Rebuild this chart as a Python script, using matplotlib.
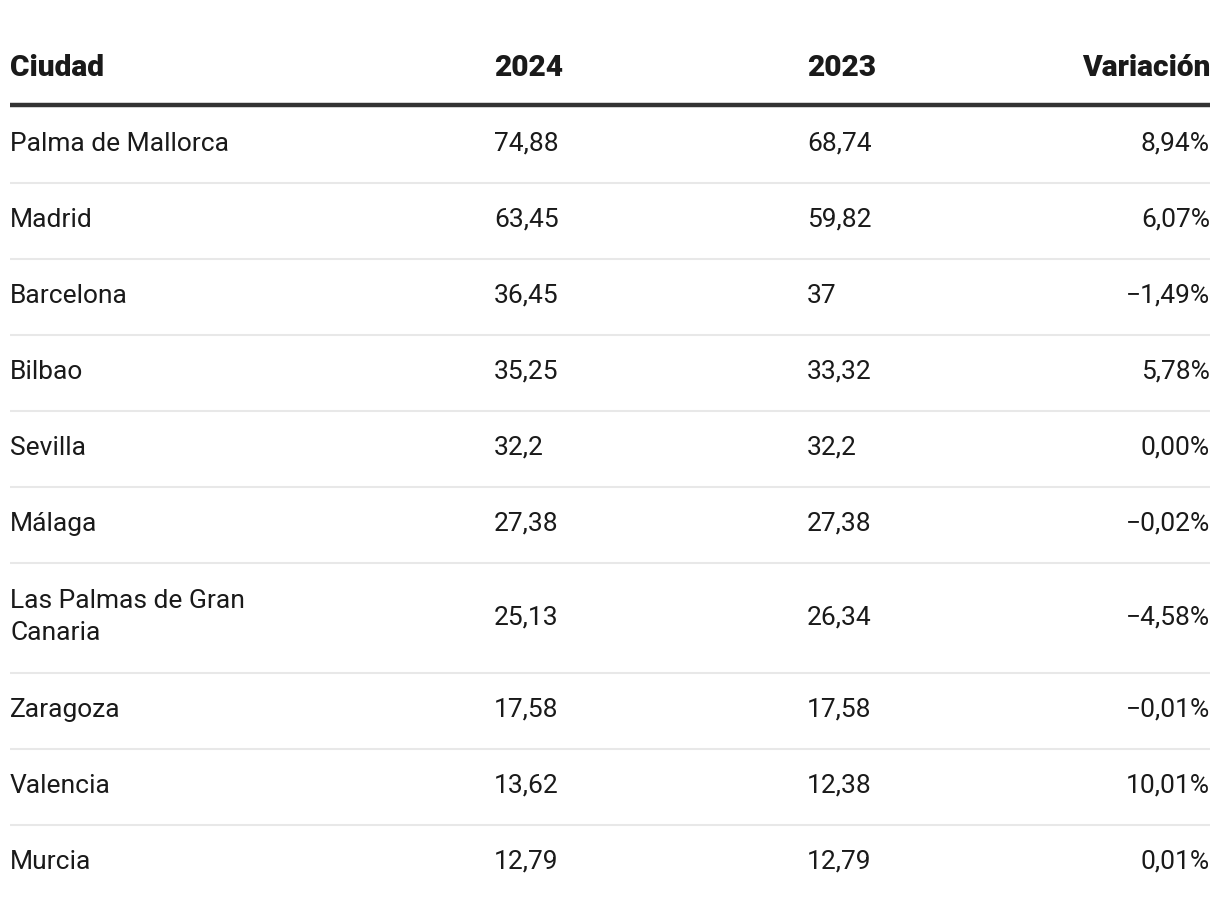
import matplotlib
matplotlib.use("Agg")
import matplotlib.pyplot as plt

# ---- Data ----
HEADERS = ["Ciudad", "2024", "2023", "Variación"]
CITIES = ["Palma de Mallorca", "Madrid", "Barcelona", "Bilbao", "Sevilla", "Málaga",
          "Las Palmas de Gran\nCanaria", "Zaragoza", "Valencia", "Murcia"]
VAL_2024 = ["74,88", "63,45", "36,45", "35,25", "32,2", "27,38", "25,13", "17,58", "13,62", "12,79"]
VAL_2023 = ["68,74", "59,82", "37", "33,32", "32,2", "27,38", "26,34", "17,58", "12,38", "12,79"]
VARIACION = ["8,94%", "6,07%", "\u22121,49%", "5,78%", "0,00%", "\u22120,02%",
             "\u22124,58%", "\u22120,01%", "10,01%", "0,01%"]

# ---- Style ----
W, H = 1220, 910
FONT = ["Roboto", "DejaVu Sans"]
TEXT = "#1a1a1a"
LEFT, RIGHT = 10, 1210
COL_X = [10, 494, 807, 1210]
COL_HA = ["left", "left", "left", "right"]
ROW_H = 76
LINE_EXTRA = 34

fig = plt.figure(figsize=(W / 100, H / 100), dpi=100)
ax = fig.add_axes([0, 0, 1, 1])
ax.set_xlim(0, W)
ax.set_ylim(H, 0)
ax.axis("off")

# header
for x, ha, label in zip(COL_X, COL_HA, HEADERS):
    ax.text(x, 68, label, ha=ha, va="center", fontsize=21.5, fontweight=900,
            family=FONT, color=TEXT)
ax.plot([LEFT, RIGHT], [105, 105], color="#333333", lw=3.2, solid_capstyle="butt")

# body rows
y = 107
for i, city in enumerate(CITIES):
    n_lines = city.count("\n") + 1
    h = ROW_H + LINE_EXTRA * (n_lines - 1)
    cy = y + h / 2 - 1
    row = [city, VAL_2024[i], VAL_2023[i], VARIACION[i]]
    for x, ha, txt in zip(COL_X, COL_HA, row):
        ax.text(x, cy, txt, ha=ha, va="center", fontsize=19, family=FONT,
                color=TEXT, linespacing=1.42)
    y += h
    if i < len(CITIES) - 1:
        ax.plot([LEFT, RIGHT], [y, y], color="#e8e8e8", lw=1.5, solid_capstyle="butt")

fig.savefig("out.png", dpi=100, facecolor="white")
